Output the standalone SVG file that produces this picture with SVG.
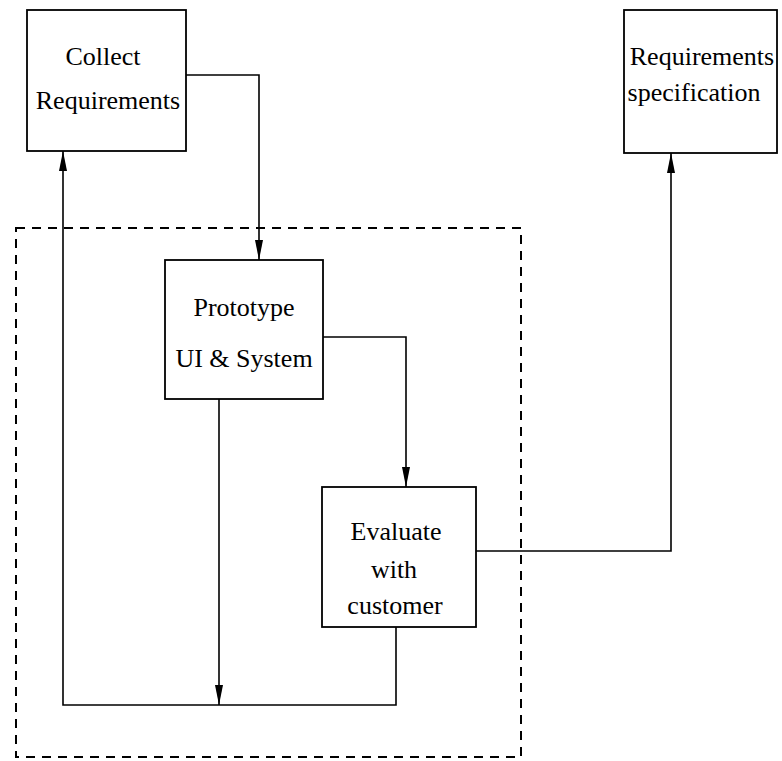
<svg xmlns="http://www.w3.org/2000/svg" width="782" height="761" viewBox="0 0 782 761">
  <style>
    .box { fill: #fff; stroke: #000; stroke-width: 1.8; }
    .wire { fill: none; stroke: #000; stroke-width: 1.6; }
    .frame { fill: none; stroke: #000; stroke-width: 2; stroke-dasharray: 9 7; }
    .label { font-family: "Liberation Serif", "Times New Roman", serif; font-size: 26px; fill: #000; text-anchor: middle; }
  </style>
  <defs>
    <marker id="head" viewBox="0 0 20 8" refX="20" refY="4" markerWidth="20" markerHeight="8" markerUnits="userSpaceOnUse" orient="auto">
      <path d="M0,0 L20,4 L0,8 Z" fill="#000"/>
    </marker>
  </defs>

  <!-- dashed boundary around the prototyping loop -->
  <rect id="iteration-frame" class="frame" x="16" y="228" width="505" height="529"/>

  <g id="connectors">
    <!-- Collect -> Prototype -->
    <polyline class="wire" points="186,75 259,75 259,260" marker-end="url(#head)"/>
    <!-- Prototype -> Evaluate -->
    <polyline class="wire" points="323,337 406,337 406,487" marker-end="url(#head)"/>
    <!-- Evaluate -> Requirements specification -->
    <polyline class="wire" points="476,551 671,551 671,153" marker-end="url(#head)"/>
    <!-- Prototype -> feedback line -->
    <line class="wire" x1="219" y1="399" x2="219" y2="705" marker-end="url(#head)"/>
    <!-- Evaluate -> back to Collect -->
    <polyline class="wire" points="396,627 396,705 63,705 63,151" marker-end="url(#head)"/>
  </g>

  <g id="collect-requirements">
    <rect class="box" x="27" y="10" width="159" height="141"/>
    <text class="label" x="103" y="65">Collect</text>
    <text class="label" x="108" y="109">Requirements</text>
  </g>

  <g id="requirements-specification">
    <rect class="box" x="624" y="10" width="153" height="143"/>
    <text class="label" x="702" y="65">Requirements</text>
    <text class="label" x="694" y="101">specification</text>
  </g>

  <g id="prototype">
    <rect class="box" x="165" y="260" width="158" height="139"/>
    <text class="label" x="244" y="316">Prototype</text>
    <text class="label" x="244" y="367">UI &amp; System</text>
  </g>

  <g id="evaluate">
    <rect class="box" x="322" y="487" width="154" height="140"/>
    <text class="label" x="396" y="540">Evaluate</text>
    <text class="label" x="394" y="578">with</text>
    <text class="label" x="395" y="614">customer</text>
  </g>
</svg>
